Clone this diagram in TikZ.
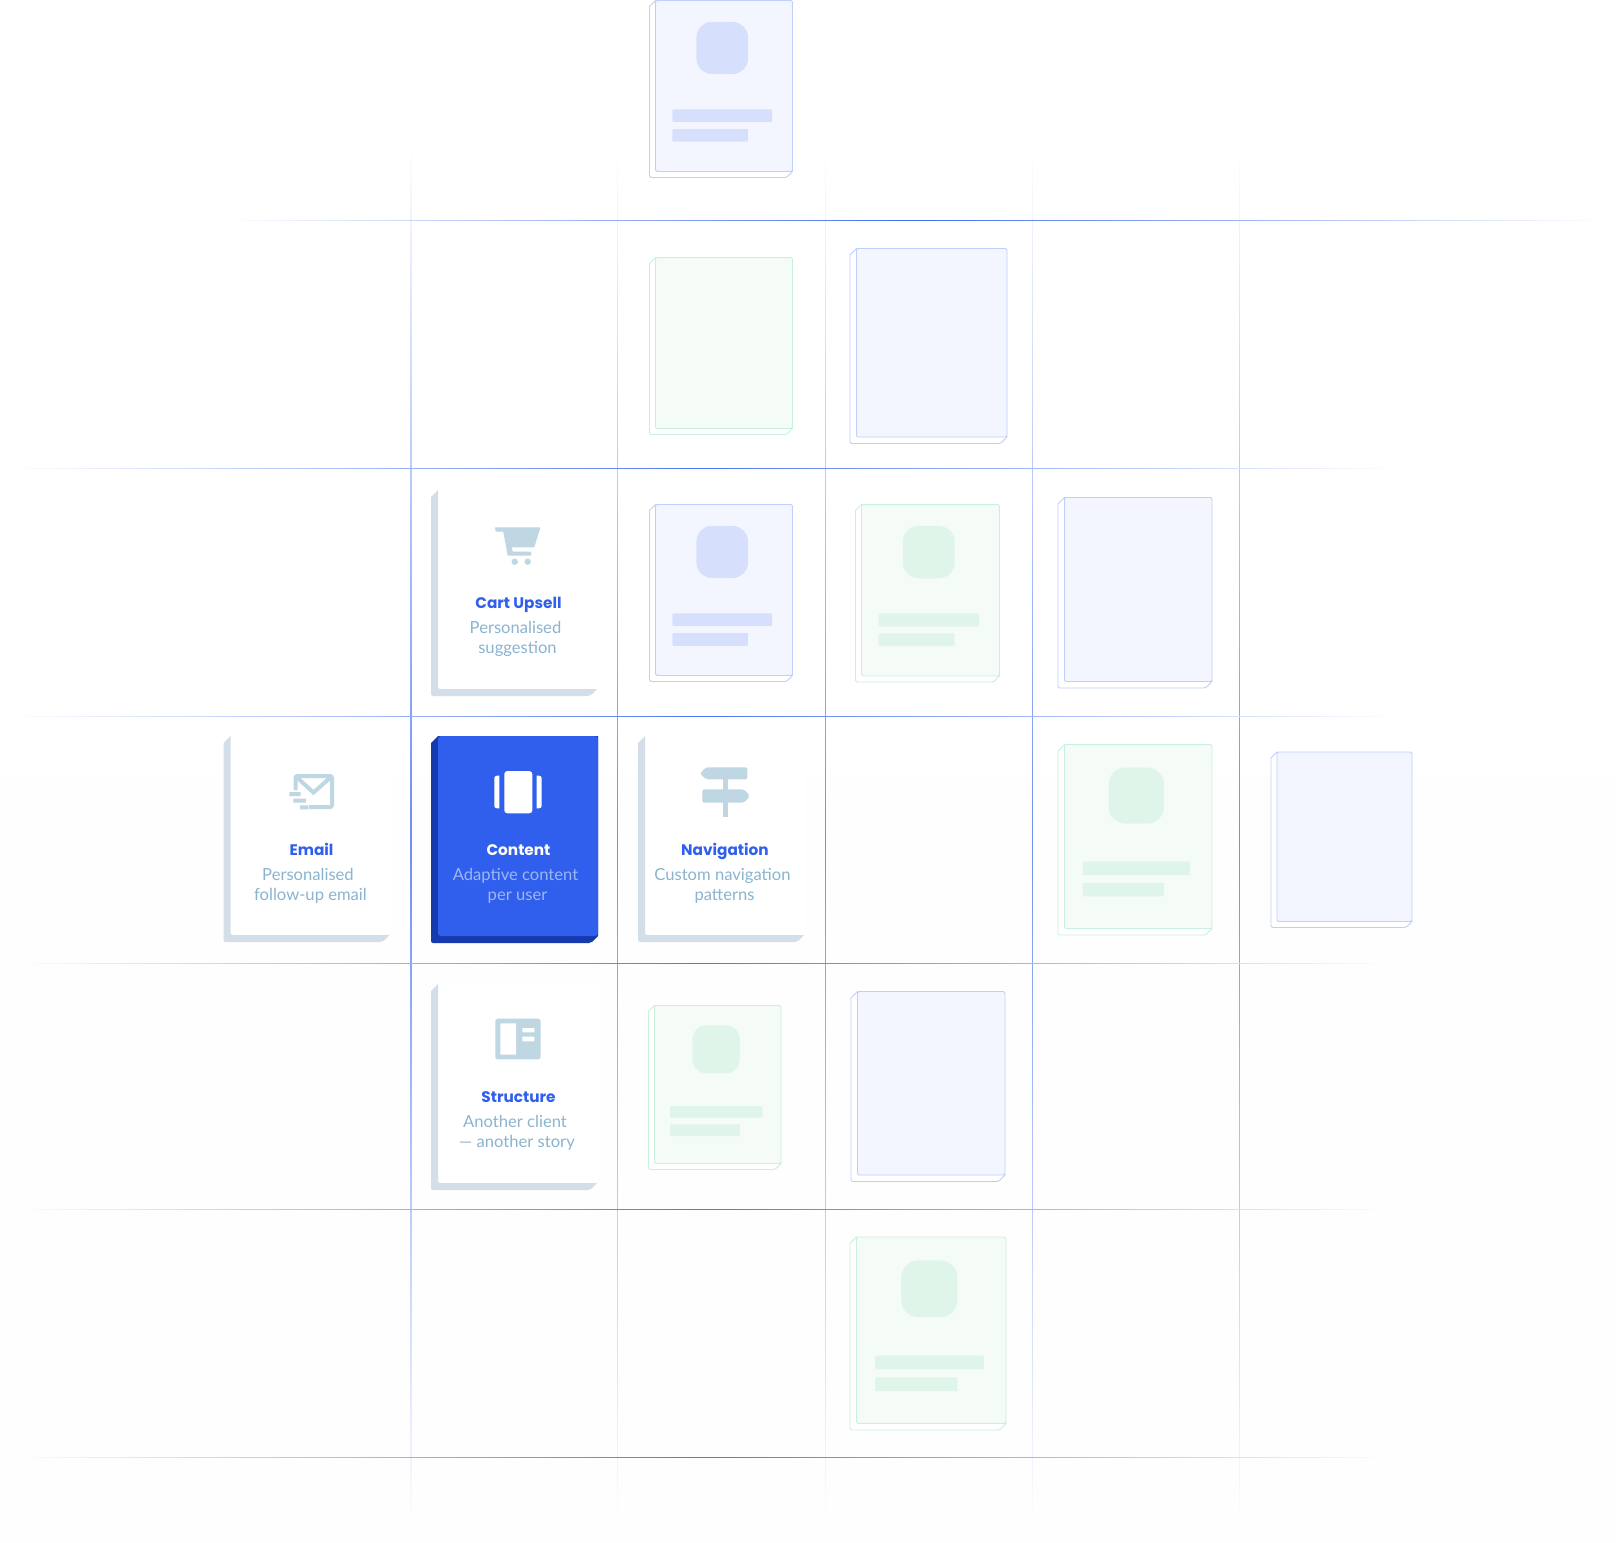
\documentclass[tikz,border=0pt]{standalone}
\usepackage{fontspec}
\setmainfont{Lato}
\newfontfamily\headfont{Poppins}
\definecolor{gridblue}{HTML}{2F5FEC}
\definecolor{sheetblue}{HTML}{F3F6FF}
\definecolor{edgeblue}{HTML}{BFCFFB}
\definecolor{blockblue}{HTML}{D6DFFB}
\definecolor{sheetgreen}{HTML}{F5FBF7}
\definecolor{edgegreen}{HTML}{C9F0DC}
\definecolor{blockgreen}{HTML}{DFF5E9}
\definecolor{cardedge}{HTML}{D3DEE8}
\definecolor{iconblue}{HTML}{BFD6E3}
\definecolor{subblue}{HTML}{8AB4CF}
\definecolor{darkedge}{HTML}{143AAE}
\definecolor{subwhite}{HTML}{9DB6F5}
\definecolor{pagelow}{HTML}{FEFEFE}
\tikzset{
  bluesheet/.style={draw=edgeblue,fill=sheetblue,line width=.9pt},
  greensheet/.style={draw=edgegreen,fill=sheetgreen,line width=.9pt},
  cardtitle/.style={anchor=base,inner sep=0pt,text=gridblue,font=\headfont\bfseries\fontsize{15.3}{18}\selectfont},
  cardsub/.style={anchor=base,inner sep=0pt,text=subblue,font=\fontsize{16.6}{20}\selectfont},
  icon/.style={fill=iconblue},
}
\begin{document}
\begin{tikzpicture}[x=1pt,y=-1pt]
  \useasboundingbox (0,0) rectangle (1616,1542);
  \shade[top color=white,bottom color=pagelow] (0,0) rectangle (1616,1542);
  % grid
  \foreach \x in {411,617.5,825.5,1032.5,1239.5}
    \shade[top color=white,bottom color=white,middle color=gridblue!70] (\x-.45,145) rectangle (\x+.45,1530);
  \shade[left color=white,right color=white,middle color=gridblue!90] (222,220.05) rectangle (1605,220.95);
  \foreach \y in {468.5,716.5,963.5,1209.5,1457.5}
    \shade[left color=white,right color=white,middle color=gridblue!85] (8,\y-.45) rectangle (1398,\y+.45);
  % sheets
  \foreach \x/\y/\w/\h/\sheet/\off in {
      655.5/.5/137/171/bluesheet/6, 655.5/257.5/137/171/greensheet/6,
      856.5/248.5/150.5/188.5/bluesheet/6.5, 655.5/504.5/137/171/bluesheet/6,
      861.5/504.5/138/171.5/greensheet/6, 1064.5/497.5/147.5/184/bluesheet/6.5,
      1064.5/744.5/147.5/184/greensheet/6.5, 1277/752/135/169.5/bluesheet/6,
      654.5/1005.5/126.5/158/greensheet/6, 857.5/991.5/147.5/183.5/bluesheet/6.5,
      856.5/1237/149.5/186.5/greensheet/6.5} {
    \draw[\sheet,fill=white] (\x,\y)--(\x-\off,\y+\off)[rounded corners=1.5pt]--(\x-\off,\y+\h+\off)--(\x+\w-\off,\y+\h+\off)[sharp corners]--(\x+\w,\y+\h)--cycle;
    \draw[\sheet,rounded corners=1.5pt] (\x,\y) rectangle (\x+\w,\y+\h);
  }
  \foreach \x/\y/\w/\h/\block in {
      655.5/.5/137/171/blockblue, 655.5/504.5/137/171/blockblue,
      861.5/504.5/138/171.5/blockgreen, 1064.5/744.5/147.5/184/blockgreen,
      654.5/1005.5/126.5/158/blockgreen, 856.5/1237/149.5/186.5/blockgreen} {
    \pgfmathsetmacro\rad{.115*\w}
    \fill[\block,rounded corners=\rad pt] (\x+.299*\w,\y+.125*\h) rectangle (\x+.675*\w,\y+.43*\h);
    \fill[\block,rounded corners=1pt] (\x+.124*\w,\y+.636*\h) rectangle (\x+.852*\w,\y+.71*\h);
    \fill[\block,rounded corners=1pt] (\x+.124*\w,\y+.752*\h) rectangle (\x+.675*\w,\y+.826*\h);
  }
  % cards
  \foreach \x/\y in {431/490,223.5/736,638/736,431/984} {
    \fill[white] (\x+7,\y) rectangle (\x+167,\y+199);
    \fill[cardedge] (\x+7,\y)--(\x,\y+7)[rounded corners=2pt]--(\x,\y+206)--(\x+159,\y+206)[sharp corners]--(\x+166,\y+199)[rounded corners=2pt]--(\x+7,\y+199)[sharp corners]--(\x+7,\y)--cycle;
  }
  \fill[darkedge] (438,736)--(431,743)[rounded corners=2pt]--(431,943)--(591,943)[sharp corners]--(598,936)--(598,736)--cycle;
  \fill[gridblue,rounded corners=3pt] (438,736) rectangle (598,936);
  % card texts
  \foreach \n/\x/\y/\ax/\bx/\head/\subA/\subB in {
      cart/518.5/490/515.5/517.5/Cart Upsell/Personalised/suggestion,
      email/311.5/737/308/310.5/Email/Personalised/follow-up email,
      nav/725/737/722.5/724.5/Navigation/Custom navigation/patterns,
      struct/518.5/984/515/517/Structure/Another client/--- another story} {
    \node[cardtitle] (title\n) at (\x,\y+118) {\head};
    \node[cardsub] (suba\n) at (\ax,\y+143) {\subA};
    \node[cardsub] (subb\n) at (\bx,\y+163) {\subB};
  }
  \node[cardtitle,text=white] (titlecontent) at (518.5,855) {Content};
  \node[cardsub,text=subwhite] (subacontent) at (515.5,880) {Adaptive content};
  \node[cardsub,text=subwhite] (subbcontent) at (517.5,900) {per user};
  % cart icon
  \fill[icon,rounded corners=.6pt] (495,527.3)--(540.5,527.3)--(534.3,547.3)--(511.7,547.3)--(512.7,551.7)--(531,551.7)--(531,555.7)--(507.7,555.7)--(503.3,531.7)--(495.7,531.7)--cycle;
  \fill[icon] (514.7,561.7) circle (3.2) (527.7,561.7) circle (3.2);
  % mail icon
  \draw[iconblue,line width=4pt,rounded corners=2pt] (295.5,790)--(295.5,776)--(332,776)--(332,807)--(309,807);
  \draw[iconblue,line width=4pt] (297,777.5)--(313.5,792.5)--(330.5,777.5);
  \fill[icon] (289.3,792) rectangle (300.7,796) (293.3,798.7) rectangle (306,802.7) (300,805.3) rectangle (308.3,809.3);
  % content icon
  \fill[white,rounded corners=3pt] (504.3,771) rectangle (532.3,813.3);
  \fill[white] (499.3,775.7)[rounded corners=2.5pt]--(494.3,775.7)--(494.3,808.3)[sharp corners]--(499.3,808.3)--cycle;
  \fill[white] (536.7,775.7)[rounded corners=2.5pt]--(541.7,775.7)--(541.7,808.3)[sharp corners]--(536.7,808.3)--cycle;
  % signpost icon
  \fill[icon] (722.7,779) rectangle (727.7,816.7);
  \fill[icon,rounded corners=2pt] (706,767.3)--(747.3,767.3)--(747.3,779.3)--(706,779.3)--(700,773.3)--cycle;
  \fill[icon,rounded corners=2pt] (702.3,789.3)--(744,789.3)--(750,795.8)--(744,802.7)--(702.3,802.7)--cycle;
  % structure icon
  \fill[icon,rounded corners=2.5pt] (495.3,1018.7) rectangle (540.7,1059.3);
  \fill[white] (500.3,1023.3) rectangle (516,1054.7) (522.3,1028) rectangle (534.3,1032.3) (522.3,1036.7) rectangle (534.3,1041.3);
\end{tikzpicture}
\end{document}
